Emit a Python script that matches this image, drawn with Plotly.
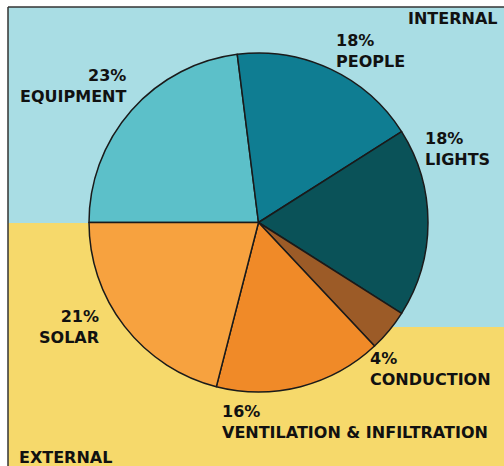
import plotly.graph_objects as go

W, H = 504, 466

# slice data, clockwise from 9 o'clock
categories = ["EQUIPMENT", "PEOPLE", "LIGHTS", "CONDUCTION",
              "VENTILATION & INFILTRATION", "SOLAR"]
shares = [23, 18, 18, 4, 16, 21]
slice_colors = ["#5CC0C9", "#0F7D92", "#0A5258", "#9C5B27", "#F08A28", "#F7A23F"]

COLORS = {
    "internal": "#A9DDE4",
    "external": "#F6D96B",
    "frame": "#333333",
    "text": "#111111",
}

FONT = "DejaVu Sans, Liberation Sans, Arial, sans-serif"


def px_x(x):
    # window pixel -> paper fraction
    return x / W


def px_y(y):
    return 1 - y / H


fig = go.Figure(go.Pie(
    labels=categories,
    values=shares,
    sort=False,
    direction="clockwise",
    rotation=270,
    marker=dict(colors=slice_colors, line=dict(color="#1A1A1A", width=1.5)),
    textinfo="none",
    hoverinfo="label+percent",
    domain=dict(x=[px_x(89), px_x(428)], y=[px_y(392), px_y(53)]),
    showlegend=False,
))

# background zones
shapes = [
    dict(type="rect", xref="paper", yref="paper", layer="below",
         x0=px_x(8), x1=1, y0=0, y1=px_y(223),
         fillcolor=COLORS["external"], line=dict(width=0)),
    dict(type="rect", xref="paper", yref="paper", layer="below",
         x0=px_x(8), x1=1, y0=px_y(223), y1=px_y(7),
         fillcolor=COLORS["internal"], line=dict(width=0)),
    dict(type="rect", xref="paper", yref="paper", layer="below",
         x0=px_x(330), x1=1, y0=px_y(327), y1=px_y(222),
         fillcolor=COLORS["internal"], line=dict(width=0)),
    # thin frame on top and left
    dict(type="line", xref="paper", yref="paper", layer="below",
         x0=px_x(8), x1=1, y0=px_y(7), y1=px_y(7),
         line=dict(color=COLORS["frame"], width=1.5)),
    dict(type="line", xref="paper", yref="paper", layer="below",
         x0=px_x(8), x1=px_x(8), y0=0, y1=px_y(7),
         line=dict(color=COLORS["frame"], width=1.5)),
]

# label text per slice, placed in window pixels: (x, y centre, anchor)
label_pos = {
    "EQUIPMENT": (128, 86, "right"),
    "PEOPLE": (334, 51, "left"),
    "LIGHTS": (423, 149, "left"),
    "CONDUCTION": (368, 369, "left"),
    "VENTILATION & INFILTRATION": (220, 422, "left"),
    "SOLAR": (101, 327, "right"),
}

annotations = []
for name, pct in zip(categories, shares):
    x, y, xa = label_pos[name]
    annotations.append(dict(
        text=f"<b>{pct}%<br>{name}</b>", x=px_x(x), y=px_y(y),
        xref="paper", yref="paper", xanchor=xa, yanchor="middle", align=xa,
        showarrow=False, font=dict(family=FONT, size=16, color=COLORS["text"]),
    ))

for t, x, y, xa in [("INTERNAL", 499, 18, "right"), ("EXTERNAL", 17, 457, "left")]:
    annotations.append(dict(
        text=f"<b>{t}</b>", x=px_x(x), y=px_y(y), xref="paper", yref="paper",
        xanchor=xa, yanchor="middle", showarrow=False,
        font=dict(family=FONT, size=16, color=COLORS["text"]),
    ))

fig.update_layout(
    width=W, height=H,
    margin=dict(l=0, r=0, t=0, b=0),
    paper_bgcolor="white",
    plot_bgcolor="white",
    shapes=shapes,
    annotations=annotations,
)

# drop the browser's default body margin so the figure fills the window
fig.write_html(
    "out.html",
    config={"displayModeBar": False},
    post_script="document.body.style.margin='0';document.body.style.overflow='hidden';",
)
